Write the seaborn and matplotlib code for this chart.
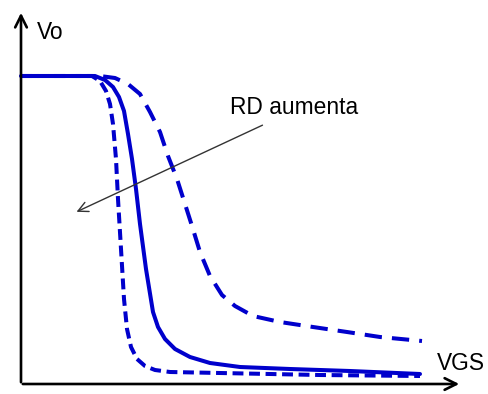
import matplotlib
matplotlib.use("Agg")
import matplotlib.pyplot as plt
import seaborn as sns
import pandas as pd

# transfer curves Vo(VGS), schematic units (origin at axis corner)
vgs_a = [0, 71, 79, 85, 89, 92, 95, 97, 100, 103, 106, 110, 116, 124, 134, 149, 199, 299, 399]
vo_a = [308, 308, 303, 293, 280, 260, 225, 185, 135, 85, 55, 37, 25, 18, 14, 12, 11, 9, 8]

vgs_b = [0, 74, 84, 92, 98, 103, 107, 111, 115, 119, 125, 132, 137, 144, 154, 169, 189, 219, 269, 329, 399]
vo_b = [308, 308, 304, 297, 287, 273, 250, 225, 195, 160, 115, 72, 57, 45, 35, 27, 21, 17, 15, 13, 10]

vgs_c = [0, 79, 94, 107, 119, 129, 139, 147, 156, 164, 171, 179, 189, 201, 214, 232, 259, 292, 326, 359, 401]
vo_c = [308, 308, 306, 300, 290, 272, 252, 228, 205, 180, 158, 132, 108, 89, 78, 68, 62, 57, 52, 47, 43]

x_label = "VGS"
y_label = "Vo"
note = "RD aumenta"

sns.set_theme(style="white")
plt.rcParams["font.family"] = ["Liberation Sans", "DejaVu Sans"]

fig = plt.figure(figsize=(4.89, 3.94), dpi=100)
ax = fig.add_axes([0, 0, 1, 1])
ax.set_xlim(-21, 468)
ax.set_ylim(-10, 384)
ax.axis("off")

blue = "#0000cc"
curves = [
    (vgs_a, vo_a, (0, (2.7, 1.4))),
    (vgs_b, vo_b, "-"),
    (vgs_c, vo_c, (0, (4.3, 2.5))),
]
for xs, ys, ls in curves:
    df = pd.DataFrame({"VGS": xs, "Vo": ys})
    sns.lineplot(data=df, x="VGS", y="Vo", ax=ax, color=blue, lw=2.9,
                 linestyle=ls, sort=False, estimator=None)

# axes with arrow heads
ax.annotate("", xy=(0, 374), xytext=(0, -1),
            arrowprops=dict(arrowstyle="->,head_length=0.7,head_width=0.35", lw=1.9, color="black"))
ax.annotate("", xy=(441, 0), xytext=(-1, 0),
            arrowprops=dict(arrowstyle="->,head_length=0.7,head_width=0.35", lw=1.9, color="black"))

ax.text(16, 352, y_label, fontsize=16.4, va="center", ha="left", color="black")
ax.text(416, 20, x_label, fontsize=16.4, va="center", ha="left", color="black")

ax.text(209, 277, note, fontsize=16.4, va="center", ha="left", color="black")
ax.annotate("", xy=(53, 171), xytext=(244, 260),
            arrowprops=dict(arrowstyle="->,head_length=0.6,head_width=0.3", lw=1.0, color="#333333"))

fig.savefig("out.png", dpi=100)
